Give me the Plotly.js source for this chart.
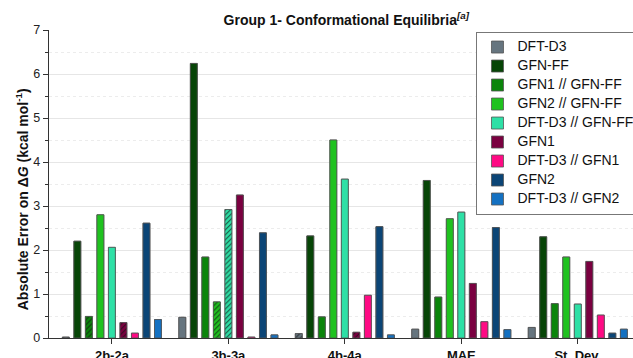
<!DOCTYPE html>
<html><head><meta charset="utf-8">
<script src="https://cdn.plot.ly/plotly-3.0.1.min.js"></script>
<style>body{margin:0;padding:0;background:#fff}#chart{width:633px;height:358px}</style>
</head><body><div id="chart"></div>
<script>
const categories = ['2b-2a','3b-3a','4b-4a','MAE','St. Dev.'];
const seriesNames = ['DFT-D3','GFN-FF','GFN1 // GFN-FF','GFN2 // GFN-FF','DFT-D3 // GFN-FF','GFN1','DFT-D3 // GFN1','GFN2','DFT-D3 // GFN2'];
const dftd3      = [0.02, 0.47, 0.10, 0.20, 0.24];
const gfnff      = [2.20, 6.24, 2.32, 3.58, 2.30];
const gfn1_gfnff = [0.49, 1.84, 0.48, 0.93, 0.78];
const gfn2_gfnff = [2.80, 0.82, 4.50, 2.71, 1.84];
const dft_gfnff  = [2.06, 2.92, 3.61, 2.86, 0.77];
const gfn1       = [0.35, 3.25, 0.13, 1.24, 1.74];
const dft_gfn1   = [0.11, 0.02, 0.97, 0.37, 0.52];
const gfn2       = [2.61, 2.39, 2.53, 2.51, 0.11];
const dft_gfn2   = [0.42, 0.07, 0.07, 0.19, 0.20];
const seriesValues = [dftd3, gfnff, gfn1_gfnff, gfn2_gfnff, dft_gfnff, gfn1, dft_gfn1, gfn2, dft_gfn2];
// hatched bars (1 = hatched) per series
const hatched = [
  [1,0,1,0,0],
  [0,0,0,0,0],
  [1,0,0,0,0],
  [0,1,0,0,0],
  [0,1,0,0,0],
  [1,0,1,0,0],
  [0,0,0,0,0],
  [0,0,0,0,0],
  [0,0,0,0,0]
];
const colors = ['#66757f','#074507','#0b850b','#1fc21f','#2ee0a6','#7a0040','#ff0a84','#0b4576','#1471c2'];
const yTitle = '<b>Absolute Error on Δ<i>G</i> (kcal mol<sup>-1</sup>)</b>';

const traces = [];
// plain bars (carry the legend entries)
seriesNames.forEach((n,i)=>{
  traces.push({
    type:'bar', name:'<span style="font-size:14px">'+n+'</span>', x:categories, y:seriesValues[i],
    offsetgroup:String(i), legendgroup:String(i),
    marker:{color:colors[i], line:{color:'#555', width:0.8}},
    hoverinfo:'x+y'
  });
});
// hatched overlay on the same slots
seriesNames.forEach((n,i)=>{
  traces.push({
    type:'bar', name:n, x:categories, y:seriesValues[i],
    offsetgroup:String(i), legendgroup:String(i), showlegend:false,
    marker:{color:colors[i], line:{color:'#555', width:0.8},
      pattern:{shape:hatched[i].map(h=>h?'/':''), fgcolor:'#111', bgcolor:colors[i], fgopacity:0.7, size:3.5, solidity:0.3, fillmode:'replace'}},
    hoverinfo:'skip'
  });
});

const layout = {
  width:633, height:358,
  margin:{l:49, r:0, t:30, b:20, autoexpand:false},
  paper_bgcolor:'#fff', plot_bgcolor:'#fff',
  font:{family:'Liberation Sans, Arial, sans-serif', color:'#222'},
  title:{text:'<b>Group 1- Conformational Equilibria<sup><i>[a]</i></sup></b>', x:0.547, xanchor:'center', y:0.945, yanchor:'middle', font:{size:14, color:'#111'}},
  barmode:'group', bargap:0.11, bargroupgap:0.4,
  showlegend:true,
  legend:{x:0.732, y:0.995, xanchor:'left', yanchor:'top', bgcolor:'#fff', bordercolor:'#777', borderwidth:1, font:{size:10.6, color:'#111'}, tracegroupgap:0, itemwidth:30, traceorder:'normal'},
  xaxis:{range:[-0.54,4.474], showline:true, linecolor:'#333', linewidth:1.2, ticks:'outside', ticklen:5, tickcolor:'#333',
    tickfont:{size:13, color:'#111', family:'Liberation Sans, Arial, sans-serif'}, tickprefix:'<b>', ticksuffix:'</b>', showgrid:false, fixedrange:true},
  yaxis:{range:[0,7], dtick:1, showline:true, linecolor:'#333', linewidth:1.2, ticks:'outside', ticklen:5, tickcolor:'#333',
    tickfont:{size:12.5, color:'#222'}, showgrid:true, gridcolor:'#e6e6e6', gridwidth:1, zeroline:false,
    minor:{dtick:0.5, showgrid:true, gridcolor:'#ececec', griddash:'dot', ticks:'outside', ticklen:3, tickcolor:'#333'}},
  annotations:[{text:yTitle, textangle:-90, xref:'paper', yref:'paper', x:-0.047, y:0.449, xanchor:'center', yanchor:'middle', showarrow:false, font:{size:14, color:'#111'}}]
};
Plotly.newPlot('chart', traces, layout, {displayModeBar:false, staticPlot:true});
</script></body></html>
